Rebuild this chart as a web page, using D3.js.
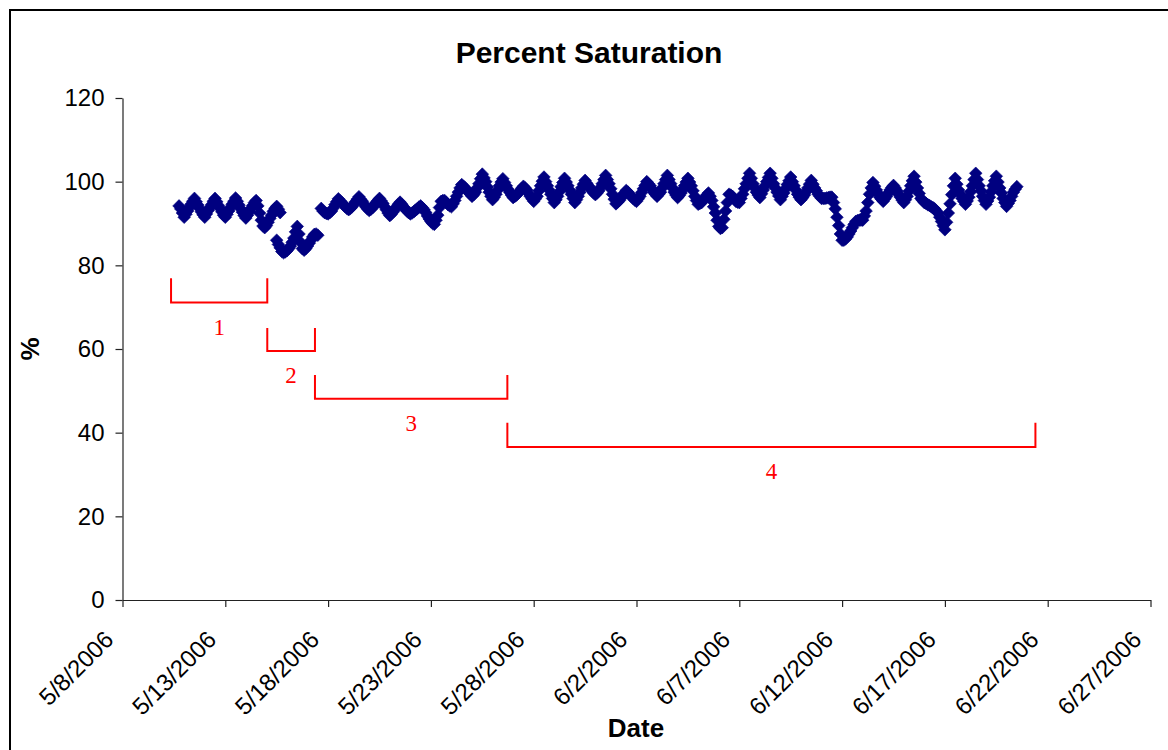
<!DOCTYPE html>
<html><head><meta charset="utf-8">
<script src="https://cdn.jsdelivr.net/npm/d3@7"></script>
<style>body{margin:0;background:#fff}svg{display:block}</style>
</head><body><svg id="chart" width="1168" height="750"></svg>
<script>
// ---------- data ----------
const chartTitle = "Percent Saturation";
const xAxisTitle = "Date";
const yAxisTitle = "%";
const xTickLabels = ["5/8/2006","5/13/2006","5/18/2006","5/23/2006","5/28/2006","6/2/2006","6/7/2006","6/12/2006","6/17/2006","6/22/2006","6/27/2006"];
const yTickValues = [0,20,40,60,80,100,120];
const stepHours = 2;

const dep1Start = "2006-05-10T18:00";
const dep1 = [94.2,93.5,92.5,
 91.5,92.2,93.0,93.8,94.6,95.3,96.0,95.2,94.4,93.6,92.8,92.1,
 91.5,92.3,93.1,93.8,94.5,95.3,96.0,95.2,94.3,93.6,92.8,92.0,
 91.5,92.2,93.0,93.8,94.6,95.3,96.1,95.3,94.4,93.5,92.7,91.9,
 91.3,92.0,92.8,93.6,94.3,95.0,95.5,94.2,92.5,90.8,89.4,89.0,
 89.5,90.3,91.2,92.0,92.9,93.6,94.1,93.4,92.6];

const dep2Start = "2006-05-15T12:00";
const dep2 = [86.0,85.0,84.2,83.3,83.0,83.2,
 83.5,84.0,84.6,85.5,86.5,88.0,89.3,87.5,85.5,84.0,83.6,84.0,
 84.6,85.3,86.0,86.8,87.4,87.5,87.2];

const dep3Start = "2006-05-17T16:00";
const dep3 = [93.6,93.0,92.6,92.4,
 92.3,92.6,93.0,93.7,94.5,95.2,95.9,95.4,95.0,94.5,94.0,93.6,
 93.3,93.6,94.0,94.6,95.2,95.8,96.4,95.8,95.3,94.6,94.0,93.5,
 93.1,93.4,93.8,94.4,95.0,95.5,96.0,95.4,94.8,94.0,93.3,92.5,
 91.9,92.3,92.8,93.4,94.0,94.6,95.1,94.6,94.0,93.5,93.0,92.6,
 92.3,92.5,92.8,93.2,93.5,93.9,94.2,93.8,93.3,92.6,91.8,91.1,
 90.5,90.0,89.8,90.8,92.0,93.8,95.3,95.5,95.5,95.0,94.5,94.2,
 94.0,94.7,95.5,96.5,97.5,98.5,99.3,98.9,98.5,98.0,97.5,97.0,
 96.5,96.9,97.5,98.5,99.5,100.7,101.8,100.9,100.0,98.7,97.5,96.5,
 95.7,96.3,97.0,98.0,99.0,99.9,100.7,99.8,99.0];

const dep4Start = "2006-05-26T18:00";
const dep4 = [98.2,97.5,96.8,
 96.2,96.5,96.8,97.3,97.8,98.4,98.9,98.5,98.0,97.2,96.5,95.9,
 95.3,95.9,96.5,97.8,99.0,100.1,101.1,100.0,99.0,98.0,97.0,96.0,
 95.0,95.7,96.5,97.6,98.8,99.8,100.8,99.9,99.0,98.0,97.0,96.0,
 95.0,95.7,96.5,97.5,98.5,99.4,100.3,99.6,99.0,98.4,97.8,97.3,
 96.9,97.3,97.8,98.6,99.5,100.5,101.5,100.5,99.5,98.3,97.0,95.8,
 94.7,95.1,95.5,96.1,96.8,97.3,97.9,97.5,97.0,96.5,96.0,95.6,
 95.3,95.9,96.5,97.4,98.3,99.1,100.0,99.5,99.0,98.2,97.5,97.0,
 96.5,97.0,97.5,98.5,99.5,100.5,101.5,100.5,99.5,98.5,97.5,96.8,
 96.2,96.7,97.3,98.1,99.0,99.9,100.8,99.9,99.0,97.8,96.5,95.5,
 94.6,94.8,95.0,95.6,96.2,96.8,97.3,96.5,95.5,94.0,92.5,90.8,
 89.3,88.8,89.0,91.0,93.0,95.0,97.0,96.8,96.5,95.9,95.3,95.1,
 95.0,96.0,97.0,98.3,99.5,100.8,102.0,100.8,99.5,98.5,97.5,96.8,
 96.2,97.1,98.0,99.0,100.0,101.0,102.0,100.8,99.5,98.5,97.5,96.6,
 95.7,96.5,97.3,98.3,99.3,100.2,101.1,100.0,99.0,98.0,97.0,96.3,
 95.7,96.2,96.8,97.6,98.5,99.4,100.3,99.4,98.5,97.8,97.0,96.5,
 96.0,96.0,96.0,96.1,96.2,96.3,96.3,95.0,93.5,91.5,89.5,87.5,
 86.0,86.0,86.3,86.8,87.5,88.2,89.0,89.8,90.5,90.7,90.8,90.8,
 90.8,91.8,93.0,95.0,97.0,98.5,99.8,98.9,98.0,97.2,96.3,95.8,
 95.3,95.9,96.5,97.3,98.0,98.6,99.1,98.5,97.8,97.0,96.3,95.6,
 95.0,95.7,96.5,97.7,99.0,100.2,101.3,99.9,98.5,97.2,96.0,95.5,
 95.0,94.8,94.5,94.3,94.0,93.8,93.5,93.0,92.5,91.5,90.5,89.5,
 88.5,90.3,92.5,94.7,96.9,99.0,100.8,99.4,98.0,97.0,96.0,95.3,
 94.6,95.4,96.3,97.6,99.0,100.5,102.0,100.5,99.0,97.8,96.5,95.5,
 94.6,95.4,96.3,97.6,99.0,100.2,101.3,99.9,98.5,97.3,96.0,95.0,
 94.1,94.8,95.5,96.5,97.5,98.2,98.8];

const bracketLabels = ["1","2","3","4"];
const bracketStarts = ["2006-05-10T08:40","2006-05-15T01:00","2006-05-17T08:40","2006-05-26T17:15"];
const bracketEnds   = ["2006-05-15T01:00","2006-05-17T08:40","2006-05-26T17:15","2006-06-21T09:40"];
const bracketTops    = [76.9, 65.0, 53.8, 42.4];
const bracketBottoms = [71.1, 59.5, 48.1, 36.6];

// ---------- chart ----------
const parseIso = d3.utcParse("%Y-%m-%dT%H:%M");
const parseTick = d3.utcParse("%m/%d/%Y");
const tickDates = xTickLabels.map(parseTick);

const svg = d3.select("#chart");
const W = 1168, H = 750;
const plot = {left:122.5, right:1150.5, top:98, bottom:600};

const x = d3.scaleUtc().domain([tickDates[0], tickDates[tickDates.length-1]]).range([plot.left, plot.right]);
const y = d3.scaleLinear().domain([0,120]).range([plot.bottom, plot.top]);

svg.append("rect").attr("width",W).attr("height",H).attr("fill","#fff");
svg.append("rect").attr("x",10).attr("y",10).attr("width",1300).attr("height",900)
  .attr("fill","none").attr("stroke","#000").attr("stroke-width",2);

const font = "Arial, 'Liberation Sans', sans-serif";

// axes
const yAxis = d3.axisLeft(y).tickValues(yTickValues).tickSize(7).tickSizeOuter(0).tickPadding(11);
const gy = svg.append("g").attr("transform",`translate(${plot.left},0)`).call(yAxis);
gy.selectAll("text").attr("font-family",font).attr("font-size",24).attr("fill","#000");
gy.selectAll("line,path").attr("stroke","#222").attr("stroke-width",1.2);

const xAxis = d3.axisBottom(x).tickValues(tickDates).tickSize(7).tickSizeOuter(0).tickFormat((d,i)=>xTickLabels[i]);
const gx = svg.append("g").attr("transform",`translate(0,${plot.bottom})`).call(xAxis);
gx.selectAll("line,path").attr("stroke","#222").attr("stroke-width",1.2);
gx.selectAll("text")
  .attr("font-family",font).attr("font-size",24).attr("fill","#000")
  .attr("text-anchor","end").attr("dy",null).attr("y",null)
  .attr("transform","translate(-8,41) rotate(-45)");

// series
function series(startStr, vals){
  const t0 = parseIso(startStr);
  return vals.map((v,i)=>({t:d3.utcHour.offset(t0, i*stepHours), v}));
}
const points = [].concat(series(dep1Start,dep1), series(dep2Start,dep2), series(dep3Start,dep3), series(dep4Start,dep4));
const sym = d3.symbol().type(d3.symbolSquare).size(80);
svg.append("g").selectAll("path").data(points).join("path")
  .attr("d", sym)
  .attr("transform", d=>`translate(${x(d.t)},${y(d.v)}) rotate(45)`)
  .attr("fill","#000080").attr("stroke","#000080").attr("stroke-width",0.6);

// brackets
const br = svg.append("g");
bracketLabels.forEach((lab,i)=>{
  const x0 = x(parseIso(bracketStarts[i])), x1 = x(parseIso(bracketEnds[i]));
  const yt = y(bracketTops[i]), yb = y(bracketBottoms[i]);
  br.append("path").attr("d",`M${x0},${yt}V${yb}H${x1}V${yt}`)
    .attr("fill","none").attr("stroke","#ff0000").attr("stroke-width",2);
  br.append("text").attr("x",(x0+x1)/2).attr("y",yb+32).attr("text-anchor","middle")
    .attr("font-family","'Times New Roman','Liberation Serif',serif").attr("font-size",23)
    .attr("fill","#ff0000").text(lab);
});

// titles
svg.append("text").attr("x",589).attr("y",63).attr("text-anchor","middle")
  .attr("font-family",font).attr("font-weight","bold").attr("font-size",30).text(chartTitle);
svg.append("text").attr("x",636).attr("y",737).attr("text-anchor","middle")
  .attr("font-family",font).attr("font-weight","bold").attr("font-size",26).text(xAxisTitle);
svg.append("text").attr("transform","translate(39,349) rotate(-90)").attr("text-anchor","middle")
  .attr("font-family",font).attr("font-weight","bold").attr("font-size",26).text(yAxisTitle);
</script>
</body></html>
